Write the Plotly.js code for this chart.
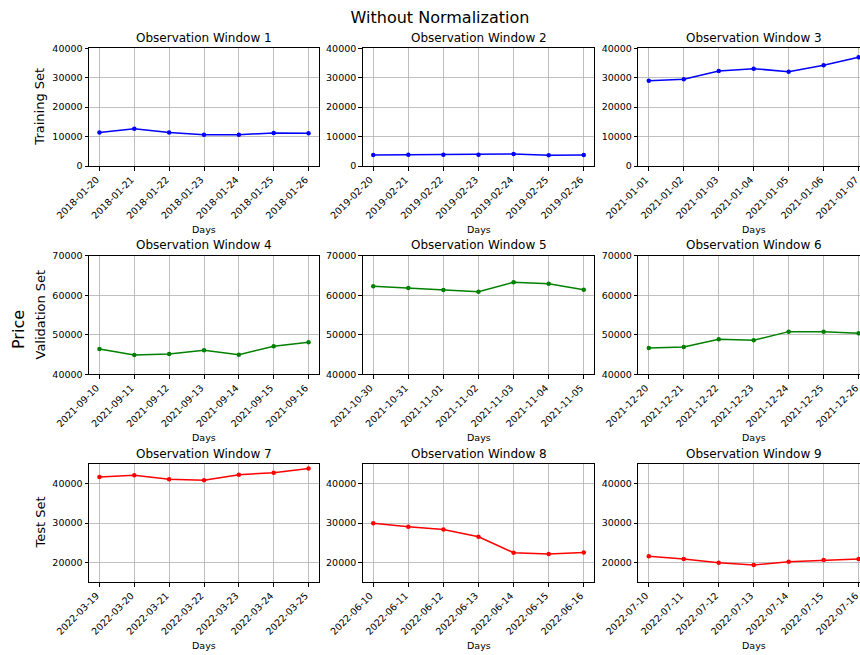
<!DOCTYPE html>
<html>
<head>
<meta charset="utf-8">
<script src="https://cdn.plot.ly/plotly-3.0.1.min.js"></script>
<style>html,body{margin:0;padding:0;background:#fff;overflow:hidden;}</style>
</head>
<body>
<div id="chart" style="width:860px;height:655px;"></div>
<script>
// ---- data ----
const mainTitle = "Without Normalization";
const windowTitles = ["Observation Window 1","Observation Window 2","Observation Window 3",
  "Observation Window 4","Observation Window 5","Observation Window 6",
  "Observation Window 7","Observation Window 8","Observation Window 9"];
const rowLabels = ["Training Set", "Validation Set", "Test Set"];
const sharedYLabel = "Price";
const xLabel = "Days";

const dates1 = ["2018-01-20","2018-01-21","2018-01-22","2018-01-23","2018-01-24","2018-01-25","2018-01-26"];
const values1 = [11400, 12700, 11400, 10650, 10650, 11200, 11100];
const dates2 = ["2019-02-20","2019-02-21","2019-02-22","2019-02-23","2019-02-24","2019-02-25","2019-02-26"];
const values2 = [3740, 3850, 3850, 3850, 4080, 3630, 3740];
const dates3 = ["2021-01-01","2021-01-02","2021-01-03","2021-01-04","2021-01-05","2021-01-06","2021-01-07"];
const values3 = [29000, 29460, 32290, 33080, 32060, 34220, 36940];
const dates4 = ["2021-09-10","2021-09-11","2021-09-12","2021-09-13","2021-09-14","2021-09-15","2021-09-16"];
const values4 = [46400, 44900, 45140, 46070, 44970, 47080, 48090];
const dates5 = ["2021-10-30","2021-10-31","2021-11-01","2021-11-02","2021-11-03","2021-11-04","2021-11-05"];
const values5 = [62250, 61830, 61320, 60900, 63260, 62920, 61400];
const dates6 = ["2021-12-20","2021-12-21","2021-12-22","2021-12-23","2021-12-24","2021-12-25","2021-12-26"];
const values6 = [46660, 46910, 48850, 48600, 50790, 50790, 50370];
const dates7 = ["2022-03-19","2022-03-20","2022-03-21","2022-03-22","2022-03-23","2022-03-24","2022-03-25"];
const values7 = [41690, 42110, 41100, 40840, 42280, 42790, 43880];
const dates8 = ["2022-06-10","2022-06-11","2022-06-12","2022-06-13","2022-06-14","2022-06-15","2022-06-16"];
const values8 = [29960, 29030, 28350, 26500, 22450, 22110, 22530];
const dates9 = ["2022-07-10","2022-07-11","2022-07-12","2022-07-13","2022-07-14","2022-07-15","2022-07-16"];
const values9 = [21520, 20840, 19920, 19330, 20170, 20590, 20840];

const rowColors = ["#0000ff", "#008000", "#ff0000"];
const rowRanges = [[0, 40000], [40000, 70000], [15000, 45000]];

// ---- layout geometry (pixels) ----
const W = 860, H = 655;
const colPx = [[89, 319], [362.7, 594.3], [638.3, 860]];
const colRange = [[-0.3, 6.3], [-0.3, 6.3], [-0.3, 6.04]];
const rowPx = [[48.3, 166], [255.7, 374.3], [464, 582]];

const allDates = [dates1, dates2, dates3, dates4, dates5, dates6, dates7, dates8, dates9];
const allValues = [values1, values2, values3, values4, values5, values6, values7, values8, values9];

const font = "DejaVu Sans, Liberation Sans, sans-serif";
const traces = [];
const layout = {
  width: W, height: H,
  margin: {l: 0, r: 0, t: 0, b: 0},
  paper_bgcolor: "#ffffff",
  plot_bgcolor: "#ffffff",
  showlegend: false,
  font: {family: font, color: "#000000", size: 9.5},
  title: {text: mainTitle, x: 440 / W, xanchor: "center", y: 1 - 17 / H, yanchor: "middle",
          font: {family: font, size: 16, color: "#000000"}},
  annotations: []
};

for (let i = 0; i < 9; i++) {
  const r = Math.floor(i / 3), c = i % 3;
  const n = i + 1;
  const xa = n === 1 ? "xaxis" : "xaxis" + n;
  const ya = n === 1 ? "yaxis" : "yaxis" + n;
  traces.push({
    type: "scatter", mode: "lines+markers",
    x: allDates[i], y: allValues[i],
    xaxis: "x" + (n === 1 ? "" : n), yaxis: "y" + (n === 1 ? "" : n),
    line: {color: rowColors[r], width: 1.5},
    marker: {color: rowColors[r], size: 4.5},
    hoverinfo: "x+y"
  });
  const xd = [colPx[c][0] / W, colPx[c][1] / W];
  const yd = [1 - rowPx[r][1] / H, 1 - rowPx[r][0] / H];
  layout[xa] = {
    type: "category", domain: xd, range: colRange[c],
    anchor: "y" + (n === 1 ? "" : n),
    tickmode: "array", tickvals: allDates[i], ticktext: allDates[i],
    tickangle: -45, ticks: "outside", ticklen: 3.5, tickwidth: 1, tickcolor: "#000",
    ticklabelshift: -3,
    showline: true, linecolor: "#000", linewidth: 1, mirror: true,
    showgrid: true, gridcolor: "#b0b0b0", gridwidth: 0.8,
    zeroline: false, tickfont: {family: font, size: 9.5, color: "#000"},
    fixedrange: true
  };
  layout[ya] = {
    domain: yd, range: rowRanges[r],
    anchor: "x" + (n === 1 ? "" : n),
    tickmode: "linear", tick0: 0, dtick: 10000, tickformat: "d",
    ticks: "outside", ticklen: 3.5, tickwidth: 1, tickcolor: "#000",
    showline: true, linecolor: "#000", linewidth: 1, mirror: c === 2 ? false : true,
    showgrid: true, gridcolor: "#b0b0b0", gridwidth: 0.8,
    zeroline: false, tickfont: {family: font, size: 9.5, color: "#000"},
    fixedrange: true
  };
  // subplot title
  const cx = (colPx[c][0] + (c === 2 ? 869 : colPx[c][1])) / 2;
  layout.annotations.push({
    text: windowTitles[i], xref: "paper", yref: "paper",
    x: cx / W, y: 1 - (rowPx[r][0] - 10.5) / H, xanchor: "center", yanchor: "middle",
    showarrow: false, font: {family: font, size: 12, color: "#000"}
  });
  // x label
  layout.annotations.push({
    text: xLabel, xref: "paper", yref: "paper",
    x: cx / W, y: 1 - (rowPx[r][1] + 63) / H, xanchor: "center", yanchor: "middle",
    showarrow: false, font: {family: font, size: 9.5, color: "#000"}
  });
}

// row labels
for (let r = 0; r < 3; r++) {
  layout.annotations.push({
    text: rowLabels[r], xref: "paper", yref: "paper",
    x: 39.5 / W, y: 1 - ((rowPx[r][0] + rowPx[r][1]) / 2) / H,
    xanchor: "center", yanchor: "middle", textangle: -90,
    showarrow: false, font: {family: font, size: 13, color: "#000"}
  });
}
layout.annotations.push({
  text: sharedYLabel, xref: "paper", yref: "paper",
  x: 19 / W, y: 1 - 330 / H, xanchor: "center", yanchor: "middle", textangle: -90,
  showarrow: false, font: {family: font, size: 16, color: "#000"}
});

Plotly.newPlot("chart", traces, layout, {displayModeBar: false, staticPlot: true});
</script>
</body>
</html>
